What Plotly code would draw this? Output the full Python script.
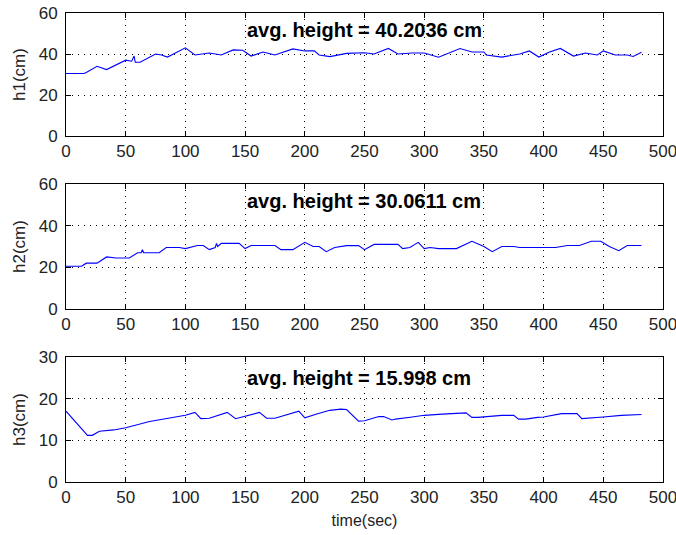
import plotly.graph_objects as go

# Tank level recordings (time in seconds, level in cm)
t1 = [0, 15, 17, 26, 34, 50, 55, 57, 58, 62, 75, 80, 85, 100, 108, 120, 130, 140, 148, 155,
      165, 175, 190, 200, 208, 212, 221, 235, 250, 258, 270, 278, 290, 300, 312, 330, 340,
      350, 352, 365, 380, 388, 396, 405, 414, 425, 435, 445, 450, 460, 470, 475, 482]
h1 = [30.5, 30.5, 31.0, 34.0, 32.4, 37.0, 36.5, 39.0, 36.0, 36.0, 40.0, 39.5, 38.5, 43.0, 39.5,
      40.5, 39.5, 42.0, 41.8, 39.0, 41.0, 39.5, 42.5, 41.5, 41.5, 39.5, 38.7, 40.3, 40.6, 40.0,
      42.7, 40.0, 40.5, 40.5, 38.4, 42.7, 41.0, 41.0, 39.5, 38.5, 40.0, 41.5, 38.5, 41.0, 42.7,
      39.0, 40.5, 39.5, 41.5, 39.5, 39.5, 38.8, 40.8]

t2 = [0, 13, 17, 26, 34, 42, 53, 60, 63, 64, 65, 78, 84, 95, 100, 110, 115, 120, 125, 126,
      127, 130, 145, 150, 155, 175, 180, 190, 200, 207, 212, 218, 225, 235, 245, 250, 258,
      270, 278, 282, 288, 295, 300, 305, 312, 327, 340, 350, 357, 365, 375, 380, 395, 400,
      410, 420, 430, 440, 448, 455, 463, 470, 482]
h2 = [20.5, 20.5, 22.0, 22.0, 25.0, 24.5, 24.5, 27.0, 27.0, 28.5, 27.0, 27.0, 29.5, 29.5, 29.0,
      30.5, 30.5, 28.5, 29.5, 31.5, 30.0, 31.5, 31.5, 29.0, 30.5, 30.5, 28.5, 28.5, 32.0, 30.0,
      30.0, 27.5, 29.5, 30.4, 30.5, 28.5, 31.0, 31.0, 31.0, 29.0, 29.5, 32.0, 29.0, 29.5, 29.0,
      29.0, 32.5, 30.0, 27.5, 30.0, 30.0, 29.5, 29.5, 29.3, 29.5, 30.5, 30.5, 32.5, 32.5, 30.0,
      28.0, 30.5, 30.5]

t3 = [0, 18, 22, 28, 40, 50, 70, 80, 100, 108, 113, 120, 135, 142, 155, 162, 168, 175, 195,
      200, 210, 221, 230, 235, 245, 250, 262, 266, 273, 276, 290, 300, 315, 335, 340, 345,
      365, 375, 379, 385, 395, 400, 415, 428, 432, 440, 450, 465, 482]
h3 = [17.0, 11.2, 11.2, 12.2, 12.5, 13.0, 14.5, 15.0, 16.0, 16.7, 15.2, 15.3, 16.7, 15.2, 16.2,
      16.7, 15.3, 15.3, 17.0, 15.4, 16.3, 17.2, 17.5, 17.4, 14.6, 14.7, 15.7, 15.7, 14.9, 15.1,
      15.6, 16.0, 16.3, 16.6, 15.5, 15.5, 16.0, 16.0, 15.1, 15.1, 15.5, 15.6, 16.4, 16.4, 15.2,
      15.3, 15.6, 16.0, 16.2]

avg_labels = ["avg. height = 40.2036 cm", "avg. height = 30.0611 cm", "avg. height = 15.998 cm"]
y_titles = ["h1(cm)", "h2(cm)", "h3(cm)"]
y_ranges = [[0, 60], [0, 60], [0, 30]]
y_dticks = [20, 20, 10]
label_y = [51.7, 51.7, 25.0]

W, H = 676, 535
FONT = "Liberation Sans, Arial, sans-serif"
TXT = "#222222"

# pixel boxes of the three panels: (top, bottom)
boxes = [(13, 136), (184, 309), (357, 482)]
x_left, x_right = 66, 663

fig = go.Figure()
series = [(t1, h1), (t2, h2), (t3, h3)]

for i, ((t, h), (top, bot)) in enumerate(zip(series, boxes)):
    n = "" if i == 0 else str(i + 1)
    fig.add_trace(go.Scatter(x=t, y=h, mode="lines",
                             line=dict(color="#0000FF", width=1.1),
                             xaxis="x" + n, yaxis="y" + n, showlegend=False))
    common = dict(showline=True, linecolor="black", linewidth=1, mirror="ticks",
                  ticks="inside", ticklen=5, tickcolor="black",
                  showgrid=True, gridcolor="black", griddash="1px,5px", gridwidth=1,
                  zeroline=False, tickfont=dict(family=FONT, size=17, color=TXT),
                  ticklabeloverflow="allow", automargin=False)
    fig.layout["xaxis" + n] = dict(
        domain=[x_left / W, x_right / W], anchor="y" + n,
        range=[0, 500], dtick=50, tick0=0,
        title=dict(text="time(sec)" if i == 2 else "",
                   font=dict(family=FONT, size=16, color=TXT), standoff=8),
        **common)
    fig.layout["yaxis" + n] = dict(
        domain=[1 - bot / H, 1 - top / H], anchor="x" + n,
        range=y_ranges[i], dtick=y_dticks[i], tick0=0, ticklabelstandoff=4,
        title=dict(text=y_titles[i], font=dict(family=FONT, size=17, color=TXT), standoff=8),
        **common)
    fig.add_annotation(x=150, y=label_y[i], xref="x" + n, yref="y" + n,
                       text="<b>" + avg_labels[i] + "</b>", showarrow=False,
                       xanchor="left", yanchor="middle",
                       font=dict(family=FONT, size=20, color="black"))

fig.update_layout(width=W, height=H, margin=dict(l=0, r=0, t=0, b=0),
                  paper_bgcolor="white", plot_bgcolor="white")

fig.write_html("out.html")
